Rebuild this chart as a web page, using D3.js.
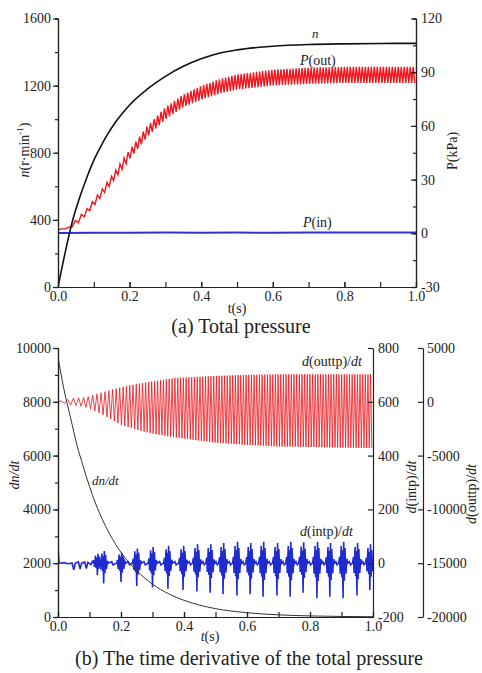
<!DOCTYPE html>
<html><head><meta charset="utf-8">
<script src="https://cdn.jsdelivr.net/npm/d3@7"></script>
<style>
html,body{margin:0;padding:0;background:#fff;}
svg text{font-family:'Liberation Serif','Times New Roman',serif !important;fill:#222;}
.axis path,.axis line{stroke:#222;stroke-width:1.2;}
.axis text{font-size:14px;fill:#222;}
</style></head>
<body>
<svg id="c" width="482" height="673"></svg>
<script>
// ---------------- DATA ----------------
// Panel (a): rotational speed n (r/min)
const tN   = [0,0.02,0.04,0.06,0.08,0.1,0.12,0.14,0.16,0.18,0.2,0.25,0.3,0.35,0.4,0.45,0.5,0.6,0.7,0.8,0.9,1.0];
const nVal = [0,205,390,530,650,755,840,915,980,1035,1085,1180,1255,1315,1360,1393,1413,1435,1445,1449,1451,1452];
// Panel (a): P(out) envelope (kPa)
const tPout    = [0,0.03,0.05,0.08,0.1,0.12,0.15,0.2,0.25,0.3,0.35,0.4,0.45,0.5,0.6,0.7,0.8,0.9,1.0];
const poutUp   = [2,3.3,7.5,13.5,18.7,23.8,32,46.5,60,70.3,77.5,82.3,86,88.7,91.4,92.5,93,93,93];
const poutLow  = [2,2.7,4.5,10.5,15.3,20.2,28,41.5,54,63.7,70.5,74.7,78,80.3,82.6,83.5,84,84,84];
// Panel (a): P(in) (kPa)
const tPin  = [0,0.1,0.2,0.3,0.4,0.5,0.6,0.7,0.8,0.9,1.0];
const pinV  = [0.2,0.3,0.3,0.4,0.3,0.4,0.3,0.4,0.4,0.5,0.5];
// Blade-passing oscillation frequency read from the ripple spacing (cycles per second)
const tFreq = [0,0.05,0.1,0.2,0.3,0.4,0.6,1.0];
const freq  = [45,58,70,92,106,113,118,120];
// Panel (b): dn/dt
const tDn   = [0,0.02,0.04,0.06,0.08,0.1,0.12,0.14,0.16,0.18,0.2,0.25,0.3,0.35,0.4,0.45,0.5,0.6,0.7,0.8,0.9,1.0];
const dnVal = [9650,8400,7400,6400,5600,4850,4200,3650,3170,2760,2400,1720,1220,870,620,440,310,160,80,40,20,10];
// Panel (b): d(outtp)/dt envelope
const tDout   = [0,0.02,0.04,0.06,0.08,0.1,0.12,0.15,0.2,0.25,0.3,0.37,0.5,0.6,0.7,0.8,0.9,1.0];
const doutUp  = [0,150,300,350,400,500,700,950,1350,1650,1900,2200,2400,2500,2550,2550,2550,2550];
const doutLow = [0,-150,-300,-350,-450,-600,-900,-1300,-2150,-2600,-2950,-3300,-3800,-4000,-4150,-4200,-4250,-4300];
const doutStart = 2100;
// Panel (b): d(intp)/dt — early section and bursts
const tInEarly = [0,0.003,0.006,0.02,0.03,0.045,0.05,0.055,0.065,0.07,0.075,0.085,0.09,0.095,0.105,0.11];
const inEarly  = [60,5,0,2,-2,0,-25,0,5,-22,0,4,-20,3,-5,10];
const burstT   = [0.125,0.145,0.2,0.25,0.3,0.349,0.397,0.441,0.483,0.524,0.568,0.61,0.651,0.695,0.737,0.778,0.822,0.863,0.905,0.949,0.99];
const burstMax = [35,45,40,55,60,65,65,70,70,75,80,75,80,75,80,78,80,75,80,75,70];
const burstMin = [-45,-75,-70,-85,-90,-95,-100,-105,-110,-115,-120,-115,-125,-120,-125,-110,-130,-125,-130,-120,-100];
// tick labels
const ticksT   = [0,0.2,0.4,0.6,0.8,1.0];
const ticksN   = [0,400,800,1200,1600];
const ticksP   = [-30,0,30,60,90,120];
const ticksDn  = [0,2000,4000,6000,8000,10000];
const ticksIn  = [-200,0,200,400,600,800];
const ticksOut = [-20000,-15000,-10000,-5000,0,5000];

// ---------------- DRAW ----------------
const svg = d3.select("#c");
const xA = d3.scaleLinear([0,1],[58,416]);
const yN = d3.scaleLinear([0,1600],[287,18.5]);
const yP = d3.scaleLinear([-30,120],[287,18.5]);
const xB = d3.scaleLinear([0,1],[58,373]);
const yDn = d3.scaleLinear([0,10000],[617,348]);
const yIn = d3.scaleLinear([-200,800],[617,348]);
const yOut = d3.scaleLinear([-20000,5000],[617,348]);
const plain = d => String(d);

const fScale = d3.scaleLinear(tFreq, freq).clamp(true);

function zigzag(times, up, low, startVal){
  const su = d3.scaleLinear(times, up), sl = d3.scaleLinear(times, low);
  const pts = [];
  if (startVal !== undefined) pts.push([0,startVal]);
  pts.push([0,(su(0)+sl(0))/2]);
  let phase = 0, half = 0; const dt = 0.0002;
  for (let t=0; t<=1; t+=dt){
    phase += fScale(t)*dt;
    const h = Math.floor(phase*2);
    if (h !== half){ half = h; pts.push([t, h%2 ? su(t) : sl(t)]); }
  }
  return pts;
}

function addClip(id,x0,y0,x1,y1){
  svg.append("clipPath").attr("id",id).append("rect")
    .attr("x",x0).attr("y",y0).attr("width",x1-x0).attr("height",y1-y0);
}
addClip("ca",58,10,416,287);
addClip("cb",58,340,373,617);

// ---- Panel a ----
const ga = svg.append("g").attr("clip-path","url(#ca)");
ga.append("path").datum(zigzag(tPout,poutUp,poutLow))
  .attr("fill","none").attr("stroke","#ec1820").attr("stroke-width",1.4)
  .attr("d", d3.line().x(d=>xA(d[0])).y(d=>yP(d[1])));
ga.append("path").datum(tPin.map((t,i)=>[t,pinV[i]]))
  .attr("fill","none").attr("stroke","#2a35c8").attr("stroke-width",2)
  .attr("d", d3.line().x(d=>xA(d[0])).y(d=>yP(d[1])));
ga.append("path").datum(tN.map((t,i)=>[t,nVal[i]]))
  .attr("fill","none").attr("stroke","#111").attr("stroke-width",1.6)
  .attr("d", d3.line().curve(d3.curveMonotoneX).x(d=>xA(d[0])).y(d=>yN(d[1])));

function axisDraw(g, axis){
  g.attr("class","axis").call(axis);
  g.attr("font-family",null).attr("font-size",14);
  g.select(".domain").attr("stroke","#222");
}
axisDraw(svg.append("g").attr("transform","translate(58,0)"),
  d3.axisLeft(yN).tickValues(d3.range(0,1601,200)).tickSize(3).tickFormat(""));
axisDraw(svg.append("g").attr("transform","translate(58,0)"),
  d3.axisLeft(yN).tickValues(ticksN).tickSize(5).tickPadding(2).tickSizeOuter(0).tickFormat(plain));
axisDraw(svg.append("g").attr("transform","translate(416,0)"),
  d3.axisRight(yP).tickValues(d3.range(-30,121,15)).tickSize(-3).tickFormat(""));
axisDraw(svg.append("g").attr("transform","translate(416,0)"),
  d3.axisRight(yP).tickValues(ticksP).tickSize(-5).tickPadding(5).tickSizeOuter(0).tickFormat(plain));
axisDraw(svg.append("g").attr("transform","translate(0,287)"),
  d3.axisBottom(xA).tickValues(d3.range(0,1.01,0.1)).tickSize(-5).tickFormat("").tickSizeOuter(0));
axisDraw(svg.append("g").attr("transform","translate(0,287)"),
  d3.axisBottom(xA).tickValues(ticksT).tickSize(-5).tickPadding(4).tickSizeOuter(0).tickFormat(d3.format(".1f")));

// ---- Panel b ----
const gb = svg.append("g").attr("clip-path","url(#cb)");
gb.append("path").datum(zigzag(tDout,doutUp,doutLow,doutStart))
  .attr("fill","none").attr("stroke","#e8141c").attr("stroke-width",0.8)
  .attr("d", d3.line().x(d=>xB(d[0])).y(d=>yOut(d[1])));
const tpl = [[-0.014,0],[-0.011,0.3],[-0.009,-0.3],[-0.006,0.8],[-0.004,-0.4],[-0.002,0.6],[0,-1],[0.002,1],[0.004,-0.5],[0.006,0.7],[0.009,-0.3],[0.012,0.2],[0.015,0]];
const inPts = tInEarly.map((t,i)=>[t,inEarly[i]]);
burstT.forEach((bt,i)=>{
  tpl.forEach(([o,r])=>{ inPts.push([bt+o, r>=0 ? r*burstMax[i] : -r*burstMin[i]]); });
  if (i<burstT.length-1){ const mid=(bt+burstT[i+1])/2; inPts.push([mid-0.002,6],[mid+0.002,-6]); }
});
gb.append("path").datum(inPts)
  .attr("fill","none").attr("stroke","#1f2bd0").attr("stroke-width",1.6)
  .attr("d", d3.line().x(d=>xB(d[0])).y(d=>yIn(d[1])));
gb.append("path").datum(tDn.map((t,i)=>[t,dnVal[i]]))
  .attr("fill","none").attr("stroke","#333").attr("stroke-width",1)
  .attr("d", d3.line().curve(d3.curveMonotoneX).x(d=>xB(d[0])).y(d=>yDn(d[1])));

axisDraw(svg.append("g").attr("transform","translate(58,0)"),
  d3.axisLeft(yDn).tickValues(d3.range(0,10001,1000)).tickSize(3).tickFormat(""));
axisDraw(svg.append("g").attr("transform","translate(58,0)"),
  d3.axisLeft(yDn).tickValues(ticksDn).tickSize(5).tickPadding(2).tickSizeOuter(0).tickFormat(plain));
axisDraw(svg.append("g").attr("transform","translate(373,0)"),
  d3.axisRight(yIn).tickValues(ticksIn).tickSize(-5).tickPadding(5).tickSizeOuter(0).tickFormat(plain));
axisDraw(svg.append("g").attr("transform","translate(423,0)"),
  d3.axisRight(yOut).tickValues(ticksOut).tickSize(-5).tickPadding(4).tickSizeOuter(0).tickFormat(plain));
axisDraw(svg.append("g").attr("transform","translate(0,617)"),
  d3.axisBottom(xB).tickValues(d3.range(0,1.01,0.1)).tickSize(-5).tickFormat("").tickSizeOuter(0));
axisDraw(svg.append("g").attr("transform","translate(0,617)"),
  d3.axisBottom(xB).tickValues(ticksT).tickSize(-5).tickPadding(4).tickSizeOuter(0).tickFormat(d3.format(".1f")));

// ---- Text ----
function txt(x,y,size,anchor,rot){
  const t = svg.append("text").attr("x",x).attr("y",y).attr("font-size",size)
    .attr("text-anchor",anchor||"start");
  if (rot) t.attr("transform",`rotate(${rot},${x},${y})`);
  return t;
}
let t;
t = txt(312,38,13,"start"); t.append("tspan").attr("font-style","italic").text("n");
t = txt(300,65,14,"start"); t.append("tspan").attr("font-style","italic").text("P"); t.append("tspan").text("(out)");
t = txt(303,227,14,"start"); t.append("tspan").attr("font-style","italic").text("P"); t.append("tspan").text("(in)");
txt(237,313,14,"middle").text("t(s)");
t = txt(29,150,14,"middle",-90); t.append("tspan").attr("font-style","italic").text("n");
t.append("tspan").text("(r·min"); t.append("tspan").attr("font-size",9).attr("dy",-6).text("-1");
t.append("tspan").attr("dy",6).text(")");
txt(457,151,14,"middle",-90).text("P(kPa)");
txt(241,333,20,"middle").text("(a) Total pressure");

t = txt(302,366,14,"start"); t.append("tspan").attr("font-style","italic").text("d");
t.append("tspan").text("(outtp)/"); t.append("tspan").attr("font-style","italic").text("dt");
t = txt(92,485,13,"start"); t.append("tspan").attr("font-style","italic").text("dn/dt");
t = txt(300,536,14,"start"); t.append("tspan").attr("font-style","italic").text("d");
t.append("tspan").text("(intp)/"); t.append("tspan").attr("font-style","italic").text("dt");
t = txt(210,641,14,"middle"); t.append("tspan").attr("font-style","italic").text("t"); t.append("tspan").text("(s)");
t = txt(19,475,14,"middle",-90); t.append("tspan").attr("font-style","italic").text("dn/dt");
t = txt(416,487,14,"middle",-90); t.append("tspan").attr("font-style","italic").text("d");
t.append("tspan").text("(intp)/"); t.append("tspan").attr("font-style","italic").text("dt");
t = txt(476,494,14,"middle",-90); t.append("tspan").attr("font-style","italic").text("d");
t.append("tspan").text("(outtp)/"); t.append("tspan").attr("font-style","italic").text("dt");
txt(249,665,20,"middle").text("(b) The time derivative of the total pressure");
</script>
</body></html>
